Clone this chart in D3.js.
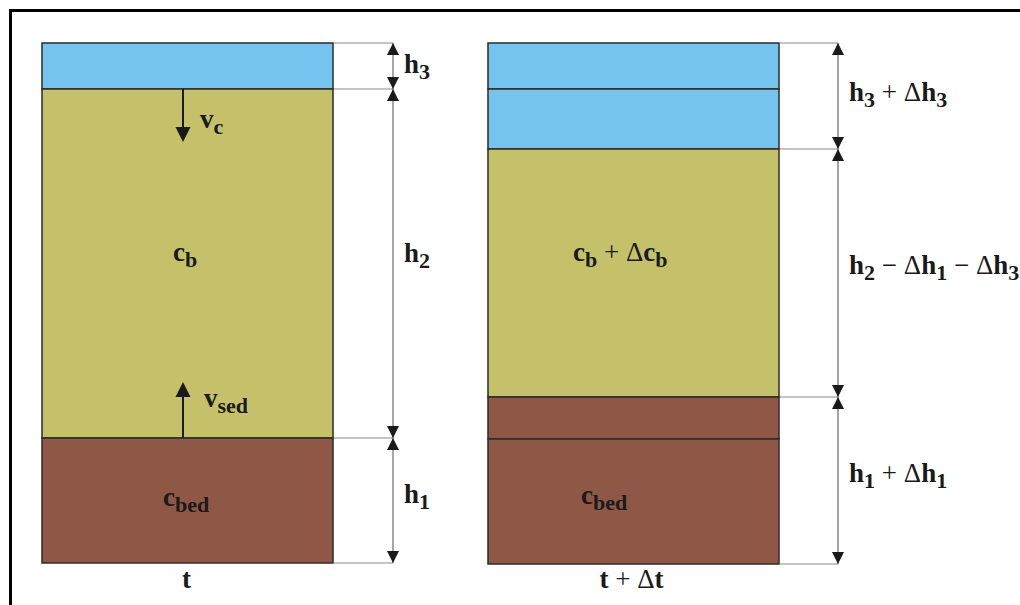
<!DOCTYPE html>
<html><head><meta charset="utf-8">
<script src="https://cdn.jsdelivr.net/npm/d3@7"></script>
<style>html,body{margin:0;padding:0;background:#fff;overflow:hidden}</style>
</head><body>
<svg id="c" width="1020" height="605"></svg>
<script>
// ---- data ----
const columns = ["t", "t + Δt"];
// layer stacks (depth units from top of column), per column
const layersT = [
  {name: "water", top: 0, bottom: 46},
  {name: "sediment", top: 46, bottom: 395},
  {name: "bed", top: 395, bottom: 520}
];
const layersT2 = [
  {name: "water", top: 0, bottom: 46},
  {name: "water", top: 46, bottom: 106},
  {name: "sediment", top: 106, bottom: 354},
  {name: "bed", top: 354, bottom: 396},
  {name: "bed", top: 396, bottom: 521}
];
const dimsT = [[0, 46], [46, 395], [395, 520]];
const dimsT2 = [[0, 106], [106, 354], [354, 521]];
const dimLabelsT = [
  [{t:"h"},{t:"3",s:1}],
  [{t:"h"},{t:"2",s:1}],
  [{t:"h"},{t:"1",s:1}]
];
const dimLabelsT2 = [
  [{t:"h"},{t:"3",s:1},{t:" + ",o:1},{t:"Δ",o:1},{t:"h"},{t:"3",s:1}],
  [{t:"h"},{t:"2",s:1},{t:" − ",o:1},{t:"Δ",o:1},{t:"h"},{t:"1",s:1},{t:" − ",o:1},{t:"Δ",o:1},{t:"h"},{t:"3",s:1}],
  [{t:"h"},{t:"1",s:1},{t:" + ",o:1},{t:"Δ",o:1},{t:"h"},{t:"1",s:1}]
];
const labelShiftT = [7, -2, 2.5];
const labelShiftT2 = [5, 1, 1.5];
const layerColors = {water: "#74c4ef", sediment: "#c5c16a", bed: "#8e5746"};

const svg = d3.select("#c");
const x = d3.scaleBand().domain(columns).range([42, 779]).paddingInner(0.3475);
const y = d3.scaleLinear().domain([0, 521]).range([43, 564]);
const font = "'Liberation Serif','Times New Roman',serif";

// frame
svg.append("path").attr("d", "M10.5,605 V10.5 H1020").attr("fill","none").attr("stroke","#000").attr("stroke-width",3);

function richText(g, parts, px, py, anchor) {
  const t = g.append("text").attr("x", px).attr("y", py)
    .attr("font-family", font).attr("font-weight","bold").attr("font-size", 27)
    .attr("fill", "#1a1a1a").attr("text-anchor", anchor || "start");
  let shifted = false;
  parts.forEach(p => {
    const ts = t.append("tspan").text(p.t).attr("xml:space","preserve");
    if (p.s) {
      ts.attr("font-size", 22);
      if (!shifted) { ts.attr("dy", 6); shifted = true; }
    } else {
      if (shifted) { ts.attr("dy", -6); shifted = false; }
      if (p.o) ts.attr("font-weight", "normal");
    }
  });
  return t;
}

function arrowHead(g, cx, tipY, dir, w, h) {
  // dir = -1 points up, +1 points down
  const base = tipY - dir * h;
  g.append("path")
    .attr("d", `M${cx},${tipY} L${cx - w/2},${base} L${cx + w/2},${base} Z`)
    .attr("fill", "#1a1a1a");
}

function drawColumn(key, layers, dims, labels, shifts, dimX) {
  const g = svg.append("g");
  const x0 = x(key), x1 = x(key) + x.bandwidth();
  g.selectAll("rect.layer").data(layers).join("rect")
    .attr("class","layer")
    .attr("x", x0).attr("width", x.bandwidth())
    .attr("y", d => y(d.top)).attr("height", d => y(d.bottom) - y(d.top))
    .attr("fill", d => layerColors[d.name])
    .attr("stroke", "#2b2b2b").attr("stroke-width", 1.5);
  // extension lines
  const bounds = Array.from(new Set(dims.flat()));
  g.selectAll("line.ext").data(bounds).join("line")
    .attr("x1", x1 + 1).attr("x2", dimX).attr("y1", d => y(d)).attr("y2", d => y(d))
    .attr("stroke", "#8a8a8a").attr("stroke-width", 1.2);
  // dimension line
  g.append("line").attr("x1", dimX).attr("x2", dimX)
    .attr("y1", y(dims[0][0])).attr("y2", y(dims[dims.length-1][1]))
    .attr("stroke", "#6a6a6a").attr("stroke-width", 1.2);
  dims.forEach((d, i) => {
    arrowHead(g, dimX, y(d[0]), -1, 12, 12);
    arrowHead(g, dimX, y(d[1]), 1, 12, 12);
    const mid = (y(d[0]) + y(d[1])) / 2;
    richText(g, labels[i], dimX + 11, mid + shifts[i]);
  });
  return g;
}

drawColumn(columns[0], layersT, dimsT, dimLabelsT, labelShiftT, 393);
drawColumn(columns[1], layersT2, dimsT2, dimLabelsT2, labelShiftT2, 838);

// column captions
richText(svg, [{t:"t"}], x(columns[0]) + x.bandwidth()/2 - 1, 588, "middle");
richText(svg, [{t:"t"},{t:" + ",o:1},{t:"Δ",o:1},{t:"t"}], x(columns[1]) + x.bandwidth()/2 - 2, 588, "middle");

// interior labels
richText(svg, [{t:"c"},{t:"b",s:1}], x(columns[0]) + 131, 261);
richText(svg, [{t:"c"},{t:"bed",s:1}], x(columns[0]) + 121, 506);
richText(svg, [{t:"c"},{t:"b",s:1},{t:" + ",o:1},{t:"Δ",o:1},{t:"c"},{t:"b",s:1}], x(columns[1]) + 85, 261);
richText(svg, [{t:"c"},{t:"bed",s:1}], x(columns[1]) + 93, 504);

// velocity arrows
const vx = x(columns[0]) + 141;
svg.append("line").attr("x1", vx).attr("x2", vx).attr("y1", y(46)).attr("y2", y(46) + 40)
  .attr("stroke", "#1a1a1a").attr("stroke-width", 2);
arrowHead(svg, vx, y(46) + 53, 1, 15, 15);
richText(svg, [{t:"v"},{t:"c",s:1}], vx + 17, 128);
svg.append("line").attr("x1", vx).attr("x2", vx).attr("y1", y(395)).attr("y2", y(395) - 42)
  .attr("stroke", "#1a1a1a").attr("stroke-width", 2);
arrowHead(svg, vx, y(395) - 56, -1, 15, 15);
richText(svg, [{t:"v"},{t:"sed",s:1}], vx + 21, 407);
</script>
</body></html>
